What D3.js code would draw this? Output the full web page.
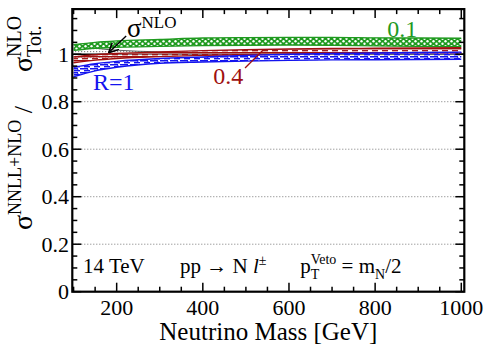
<!DOCTYPE html>
<html>
<head>
<meta charset="utf-8">
<script src="https://cdn.jsdelivr.net/npm/d3@7"></script>
<style>
  body { margin: 0; background: #fff; }
  text { font-family: "Liberation Serif", "Times New Roman", Times, "DejaVu Serif", serif; white-space: pre; }
</style>
</head>
<body>
<div id="chart"></div>
<script>
// neutrino mass points [GeV]
const mass = [100, 150, 200, 300, 400, 500, 600, 700, 800, 900, 1000];
// band edges of sigma(NNLL+NLO)/sigma(NLO,tot) per jet radius
const r01Lo = [1.016, 1.025, 1.029, 1.033, 1.036, 1.038, 1.039, 1.038, 1.035, 1.033, 1.032];
const r01Hi = [1.040, 1.050, 1.056, 1.062, 1.068, 1.070, 1.071, 1.071, 1.069, 1.068, 1.067];
const r04Lo = [0.964, 0.975, 0.982, 0.990, 0.995, 0.998, 1.000, 1.002, 1.003, 1.004, 1.004];
const r04Hi = [0.989, 0.998, 1.003, 1.010, 1.015, 1.019, 1.022, 1.024, 1.025, 1.026, 1.027];
const r1Lo  = [0.905, 0.930, 0.945, 0.962, 0.967, 0.971, 0.974, 0.976, 0.977, 0.978, 0.979];
const r1Hi  = [0.945, 0.960, 0.970, 0.982, 0.988, 0.995, 1.000, 1.003, 1.005, 1.007, 1.009];
// NLO reference band
const nloLo = [0.966, 0.978, 0.984, 0.990, 0.993, 0.994, 0.995, 0.995, 0.996, 0.996, 0.996];
const nloHi = [1.040, 1.025, 1.017, 1.010, 1.007, 1.006, 1.005, 1.005, 1.004, 1.004, 1.004];

const xMajor = [200, 400, 600, 800, 1000];
const yMajor = [0, 0.2, 0.4, 0.6, 0.8, 1];
const yGrid = [0.2, 0.4, 0.6, 0.8];

const W = 486, H = 347;
const pl = 72.3, pr_ = 464.3, pt = 9.1, pb_ = 291.7;

const svg = d3.select("#chart").append("svg")
  .attr("width", W).attr("height", H);

const x = d3.scaleLinear().domain([97, 1007]).range([pl, pr_]);
const y = d3.scaleLinear().domain([0, 1.19]).range([pb_, pt]);

const GREEN = "#1f9a1f", RED = "#a01010", BLUE = "#1414ee";

// patterns
const defs = svg.append("defs");
function pat(id, w, h) {
  return defs.append("pattern").attr("id", id).attr("patternUnits", "userSpaceOnUse")
    .attr("width", w).attr("height", h);
}
const pg = pat("pGreen", 6, 5);
pg.append("rect").attr("width", 6).attr("height", 5).attr("fill", GREEN);
pg.append("circle").attr("cx", 1.5).attr("cy", 1.3).attr("r", 1.2).attr("fill", "#fff");
pg.append("circle").attr("cx", 4.5).attr("cy", 3.8).attr("r", 1.2).attr("fill", "#fff");

const pr = pat("pRed", 10, 4);
pr.append("rect").attr("width", 10).attr("height", 4).attr("fill", "#fff").attr("fill-opacity", 0.5);
pr.append("line").attr("x1", 0).attr("x2", 10).attr("y1", 0.7).attr("y2", 0.7)
  .attr("stroke", RED).attr("stroke-width", 1.5);
pr.append("line").attr("x1", 2).attr("x2", 8).attr("y1", 2.7).attr("y2", 2.7)
  .attr("stroke", RED).attr("stroke-width", 1.3);

const pb = pat("pBlue", 10, 4);
pb.append("rect").attr("width", 10).attr("height", 4).attr("fill", "#fff").attr("fill-opacity", 0.4);
pb.append("line").attr("x1", 0).attr("x2", 8).attr("y1", 0.7).attr("y2", 0.7)
  .attr("stroke", BLUE).attr("stroke-width", 1.6);
pb.append("line").attr("x1", 4).attr("x2", 10).attr("y1", 2.7).attr("y2", 2.7)
  .attr("stroke", BLUE).attr("stroke-width", 1.4);
pb.append("line").attr("x1", 7).attr("x2", 9).attr("y1", 0.7).attr("y2", 2.7)
  .attr("stroke", BLUE).attr("stroke-width", 1);

const pn = pat("pGrey", 3, 3);
pn.append("rect").attr("width", 1.2).attr("height", 1.2).attr("fill", "#8a8a8a");

// grid
svg.append("g").selectAll("line").data(yGrid).join("line")
  .attr("x1", pl).attr("x2", pr_)
  .attr("y1", d => y(d)).attr("y2", d => y(d))
  .attr("stroke", "#777").attr("stroke-width", 1).attr("stroke-dasharray", "1,2");

const plot = svg.append("g");
const band = (lo, hi) => d3.area()
  .x((d, i) => x(mass[i])).y0((d, i) => y(lo[i])).y1((d, i) => y(hi[i]))
  .curve(d3.curveMonotoneX)(mass);
const edge = arr => d3.line().x((d, i) => x(mass[i])).y((d, i) => y(arr[i]))
  .curve(d3.curveMonotoneX)(mass);

plot.append("path").attr("d", band(nloLo, nloHi)).attr("fill", "url(#pGrey)");
plot.append("path").attr("d", edge(nloHi)).attr("fill", "none").attr("stroke", "#333").attr("stroke-width", 0.8);
plot.append("line").attr("x1", x(mass[0])).attr("x2", pr_).attr("y1", y(1)).attr("y2", y(1))
  .attr("stroke", "#000").attr("stroke-width", 1.5);

const series = [
  {lo: r01Lo, hi: r01Hi, fill: "url(#pGreen)", col: GREEN},
  {lo: r04Lo, hi: r04Hi, fill: "url(#pRed)", col: RED},
  {lo: r1Lo, hi: r1Hi, fill: "url(#pBlue)", col: BLUE}
];
series.forEach(s => {
  plot.append("path").attr("d", band(s.lo, s.hi)).attr("fill", s.fill);
  plot.append("path").attr("d", edge(s.lo)).attr("fill", "none").attr("stroke", s.col).attr("stroke-width", 1.4);
  plot.append("path").attr("d", edge(s.hi)).attr("fill", "none").attr("stroke", s.col).attr("stroke-width", 1.4);
});

// frame and ticks
const ax = svg.append("g").attr("stroke", "#000");
d3.range(100, 1001, 50).forEach(v => {
  const L = v % 200 === 0 ? 9 : 5;
  ax.append("line").attr("x1", x(v)).attr("x2", x(v)).attr("y1", pb_).attr("y2", pb_ - L).attr("stroke-width", 1.5);
  ax.append("line").attr("x1", x(v)).attr("x2", x(v)).attr("y1", pt).attr("y2", pt + L).attr("stroke-width", 1.5);
});
d3.range(0, 24).map(i => i * 0.05).forEach((v, i) => {
  const L = i % 4 === 0 ? 9 : 5;
  ax.append("line").attr("x1", pl).attr("x2", pl + L).attr("y1", y(v)).attr("y2", y(v)).attr("stroke-width", 1.5);
  ax.append("line").attr("x1", pr_).attr("x2", pr_ - L).attr("y1", y(v)).attr("y2", y(v)).attr("stroke-width", 1.5);
});
ax.append("rect").attr("x", pl).attr("y", pt).attr("width", pr_ - pl).attr("height", pb_ - pt)
  .attr("fill", "none").attr("stroke-width", 2.2);

svg.append("g").selectAll("text").data(xMajor).join("text")
  .attr("x", d => x(d)).attr("y", 315).attr("text-anchor", "middle")
  .attr("font-size", 22).text(d => d);
svg.append("g").selectAll("text").data(yMajor).join("text")
  .attr("x", 69).attr("y", d => y(d)).attr("dy", "0.35em").attr("text-anchor", "end")
  .attr("font-size", 22).text(d => d);

svg.append("text").attr("x", (pl + pr_) / 2).attr("y", 340).attr("text-anchor", "middle")
  .attr("font-size", 25).text("Neutrino Mass [GeV]");

// helper to measure text width
function tw(str, size, style) {
  const t = svg.append("text").attr("font-size", size).style("font-style", style || "normal").text(str);
  const w = t.node().getComputedTextLength();
  t.remove();
  return w;
}
function piece(g, str, px, py, size, col, style) {
  return g.append("text").attr("x", px).attr("y", py).attr("font-size", size)
    .attr("fill", col || "#000").style("font-style", style || "normal").text(str);
}

// y title (rotated)
const yt = svg.append("g").attr("transform", "translate(32,0) rotate(-90)");
{
  let p = -230;
  piece(yt, "σ", p, 0, 28); p += tw("σ", 28);
  piece(yt, "NNLL+NLO", p, -11, 18); p += tw("NNLL+NLO", 18);
  piece(yt, " / ", p, 0, 26);
  p = -72;
  piece(yt, "σ", p, 0, 28); p += tw("σ", 28);
  piece(yt, "Tot.", p, 9, 20);
  piece(yt, "NLO", p, -11, 20);
}

// annotations
const ann = svg.append("g");
{
  let p = x(224);
  piece(ann, "σ", p, y(1.072), 27); p += tw("σ", 27);
  piece(ann, "NLO", p, y(1.112), 17);
}
defs.append("marker").attr("id", "arr").attr("viewBox", "0 0 10 10").attr("refX", 9).attr("refY", 5)
  .attr("markerWidth", 7).attr("markerHeight", 7).attr("orient", "auto")
  .append("path").attr("d", "M0,0 L10,5 L0,10").attr("fill", "none").attr("stroke", "#000").attr("stroke-width", 1.6);
ann.append("line").attr("x1", x(222)).attr("y1", y(1.077)).attr("x2", x(183)).attr("y2", y(1.009))
  .attr("stroke", "#000").attr("stroke-width", 1.4).attr("marker-end", "url(#arr)");

piece(ann, "R=1", x(145), y(0.850), 24, BLUE);
piece(ann, "0.4", x(424), y(0.874), 24, RED);
ann.append("line").attr("x1", x(498)).attr("y1", y(0.942)).attr("x2", x(540)).attr("y2", y(1.018))
  .attr("stroke", RED).attr("stroke-width", 1.3);
piece(ann, "0.1", x(828), y(1.072), 24, GREEN);

// process label
{
  const by = y(0.078);
  piece(ann, "14 TeV", x(122), by, 21);
  let p = x(347);
  const s1 = "pp → N ";
  piece(ann, s1, p, by, 21); p += tw(s1, 21);
  piece(ann, "l", p, by, 21, "#000", "italic"); p += tw("l", 21, "italic");
  piece(ann, "±", p, by - 8, 14);
  p = x(626);
  piece(ann, "p", p, by, 21); p += tw("p", 21);
  piece(ann, "Veto", p, by - 9, 14);
  piece(ann, "T", p, by + 6, 14);
  p += tw("Veto", 14);
  const s2 = " = m";
  piece(ann, s2, p, by, 21); p += tw(s2, 21);
  piece(ann, "N", p, by + 6, 14); p += tw("N", 14);
  piece(ann, "/2", p, by, 21);
}
</script>
</body>
</html>
